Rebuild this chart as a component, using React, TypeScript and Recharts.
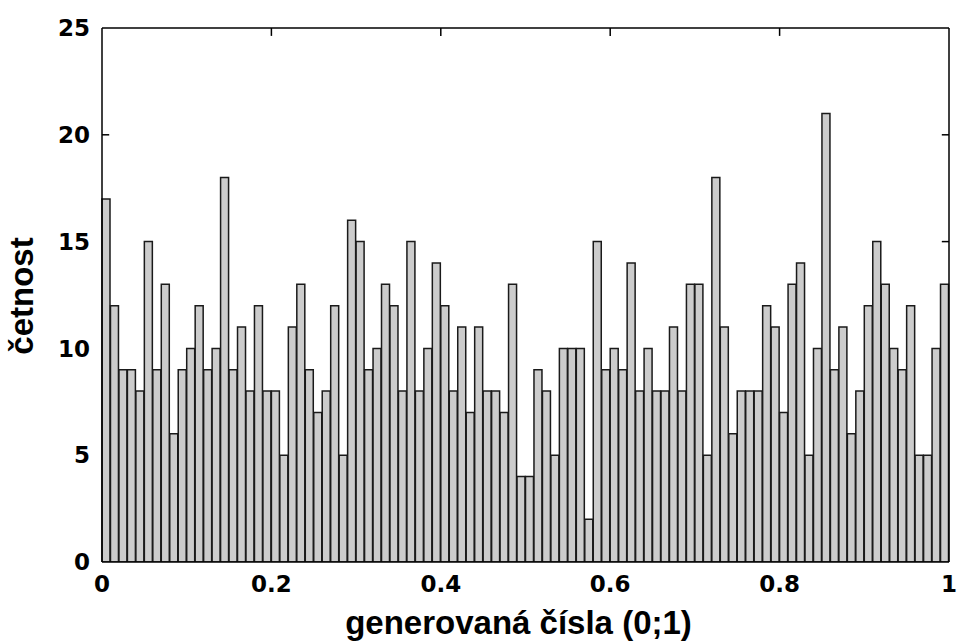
import React from 'react';
import { ComposedChart, Bar, Line, XAxis, YAxis, ReferenceLine } from 'recharts';

const counts: number[] = [
  17, 12, 9, 9, 8, 15, 9, 13, 6, 9, 10, 12, 9, 10, 18, 9, 11, 8, 12, 8, 8, 5, 11, 13, 9,
  7, 8, 12, 5, 16, 15, 9, 10, 13, 12, 8, 15, 8, 10, 14, 12, 8, 11, 7, 11, 8, 8, 7, 13, 4,
  4, 9, 8, 5, 10, 10, 10, 2, 15, 9, 10, 9, 14, 8, 10, 8, 8, 11, 8, 13, 13, 5, 18, 11, 6,
  8, 8, 8, 12, 11, 7, 13, 14, 5, 10, 21, 9, 11, 6, 8, 12, 15, 13, 10, 9, 12, 5, 5, 10, 13,
];
const xTicks: number[] = [0, 0.2, 0.4, 0.6, 0.8, 1];
const yTicks: number[] = [0, 5, 10, 15, 20, 25];
const xMax = 1;
const yMax = 25;
const xTitle = 'generovaná čísla (0;1)';
const yTitle = 'četnost';

// histogram of 100 equal bins on (0;1): x is the bin centre
const data = counts.map((c, i) => ({ bin: i, x: (i + 0.5) / counts.length, count: c }));

// inward tick lengths in data units (≈7–8 px)
const xTickLen = 0.0085;
const yTickLen = 0.37;

const tickFont = { fontFamily: '"DejaVu Sans", sans-serif', fontWeight: 700, fontSize: 23, fill: '#000' };
const titleFont = { fontFamily: '"Liberation Sans", Arial, sans-serif', fontWeight: 700, fontSize: 33, fill: '#000' };
const frame = { stroke: '#000', strokeWidth: 1.5 };

const XTitle = (props: any) => {
  const vb = props.viewBox || {};
  const cx = vb.x + vb.width / 2 - 7;
  return (
    <text x={cx} y={634} textAnchor="middle" style={titleFont as any}>
      {xTitle}
    </text>
  );
};

const YTitle = (props: any) => {
  const vb = props.viewBox || {};
  const cy = vb.y + vb.height / 2 + 1;
  const x = 33;
  return (
    <text x={x} y={cy} textAnchor="middle" transform={`rotate(-90, ${x}, ${cy})`} style={titleFont as any}>
      {yTitle}
    </text>
  );
};

export default function App() {
  const innerX = xTicks.filter((t) => t > 0 && t < xMax);
  // side ticks are hidden where the edge bar covers them (bars sit over the axes)
  const leftY = yTicks.filter((t) => t > 0 && t < yMax && t > counts[0]);
  const rightY = yTicks.filter((t) => t > 0 && t < yMax && t > counts[counts.length - 1]);
  return (
    <div style={{ position: 'fixed', left: 0, top: 0, background: '#fff' }}>
      <ComposedChart
        width={958}
        height={641}
        data={data}
        margin={{ top: 28, right: 9, bottom: 39, left: 12 }}
        barCategoryGap={0}
        barGap={0}
      >
        <XAxis xAxisId="bins" dataKey="bin" type="category" hide height={0} />
        <XAxis
          xAxisId="num"
          dataKey="x"
          type="number"
          domain={[0, xMax]}
          allowDataOverflow
          ticks={xTicks}
          height={40}
          tickLine={false}
          tickSize={0}
          tickMargin={14}
          axisLine={frame}
          tick={tickFont}
          interval={0}
          label={<XTitle />}
        />
        <YAxis
          yAxisId="left"
          type="number"
          domain={[0, yMax]}
          allowDataOverflow
          ticks={yTicks}
          width={90}
          tickLine={false}
          tickSize={0}
          tickMargin={12}
          axisLine={frame}
          tick={tickFont}
          interval={0}
          label={<YTitle />}
        />
        <Bar
          xAxisId="bins"
          yAxisId="left"
          dataKey="count"
          fill="#cccccc"
          stroke="#1a1a1a"
          strokeWidth={1.5}
          isAnimationActive={false}
        />
        <Line
          xAxisId="num"
          yAxisId="left"
          dataKey="count"
          stroke="none"
          dot={false}
          activeDot={false}
          legendType="none"
          isAnimationActive={false}
        />
        {innerX.map((t) => (
          <ReferenceLine
            key={`tx${t}`}
            xAxisId="num"
            yAxisId="left"
            segment={[{ x: t, y: yMax }, { x: t, y: yMax - yTickLen }]}
            stroke="#000"
            strokeWidth={1.5}
            ifOverflow="visible"
          />
        ))}
        {leftY.map((t) => (
          <ReferenceLine
            key={`tl${t}`}
            xAxisId="num"
            yAxisId="left"
            segment={[{ x: 0, y: t }, { x: xTickLen, y: t }]}
            stroke="#000"
            strokeWidth={1.5}
            ifOverflow="visible"
          />
        ))}
        {rightY.map((t) => (
          <ReferenceLine
            key={`tr${t}`}
            xAxisId="num"
            yAxisId="left"
            segment={[{ x: xMax - xTickLen, y: t }, { x: xMax, y: t }]}
            stroke="#000"
            strokeWidth={1.5}
            ifOverflow="visible"
          />
        ))}
        <ReferenceLine xAxisId="num" yAxisId="left" y={yMax} stroke="#000" strokeWidth={1.5} ifOverflow="visible" />
        <ReferenceLine xAxisId="num" yAxisId="left" x={xMax} stroke="#000" strokeWidth={1.5} ifOverflow="visible" />
      </ComposedChart>
    </div>
  );
}
